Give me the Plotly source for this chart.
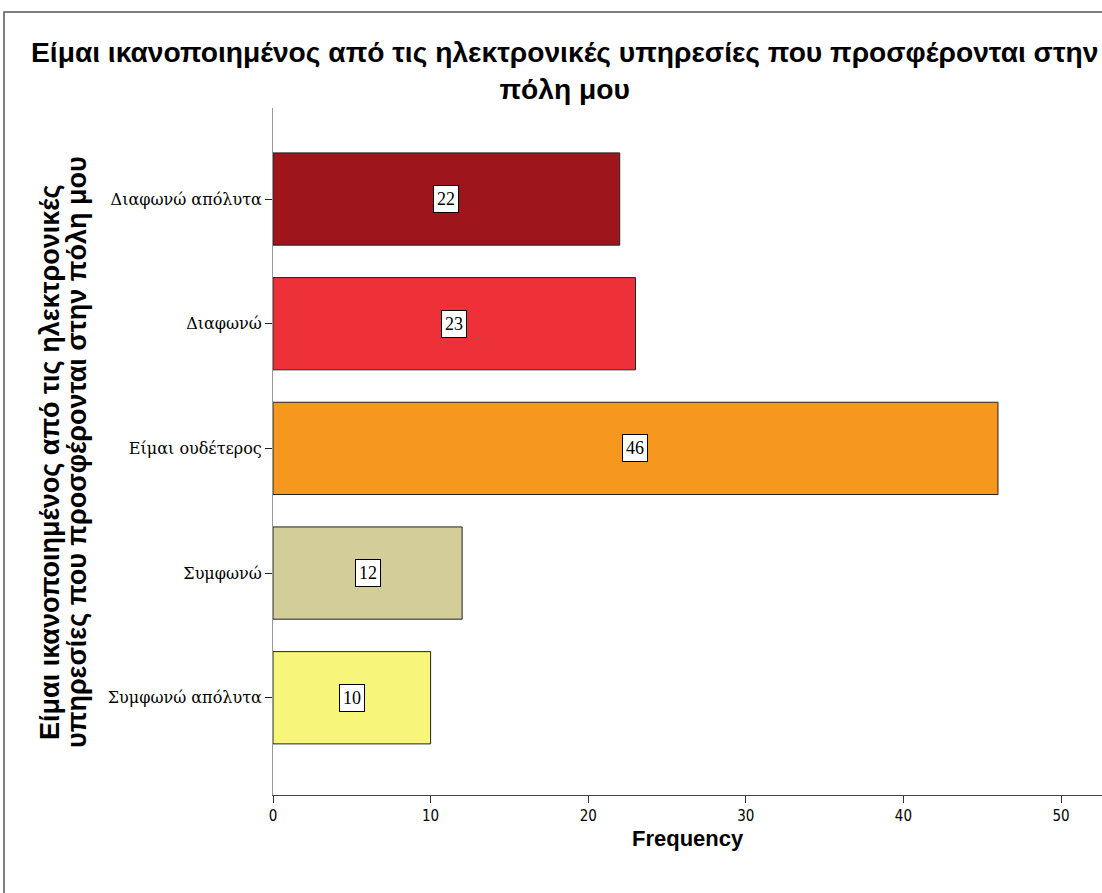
import plotly.graph_objects as go

categories = ["Διαφωνώ απόλυτα", "Διαφωνώ", "Είμαι ουδέτερος", "Συμφωνώ", "Συμφωνώ απόλυτα"]
values = [22, 23, 46, 12, 10]
colors = ["#9E161B", "#EE3138", "#F7981E", "#D3CD99", "#F8F57B"]
x_ticks = [0, 10, 20, 30, 40, 50]

title_text = "Είμαι ικανοποιημένος από τις ηλεκτρονικές υπηρεσίες που προσφέρονται στην<br>πόλη μου"
ytitle_lines = ["Είμαι ικανοποιημένος από τις ηλεκτρονικές", "υπηρεσίες που προσφέρονται στην πόλη μου"]
xtitle = "Frequency"

W, H = 1102, 893
L, R, T, B = 273, 0, 108, 893 - 795
PW, PH = W - L - R, H - T - B


def px(x):
    return (x - L) / PW


def py(y):
    return (H - B - y) / PH


fig = go.Figure()
fig.add_trace(go.Bar(
    y=categories, x=values, orientation="h",
    marker=dict(color=colors, line=dict(color="#222222", width=1)),
    width=0.74, showlegend=False, hoverinfo="x+y",
))

for c, v in zip(categories, values):
    fig.add_annotation(x=v / 2, y=c, xref="x", yref="y", text=str(v), showarrow=False,
                       bgcolor="white", bordercolor="black", borderwidth=1, borderpad=3,
                       font=dict(family="Liberation Serif", size=18, color="black"))

title_font = dict(family="Liberation Sans", size=28.2, color="black", weight="bold")
fig.add_annotation(x=px(564), y=py(70), xref="paper", yref="paper", text=title_text,
                   showarrow=False, xanchor="center", yanchor="middle", align="center",
                   font=title_font)

ytitle_font = dict(family="Liberation Sans", size=27, color="black", weight="bold")
fig.add_annotation(x=px(50), y=py(462), xref="paper", yref="paper", text=ytitle_lines[0],
                   showarrow=False, textangle=-90, xanchor="center", yanchor="middle", font=ytitle_font)
fig.add_annotation(x=px(77), y=py(452), xref="paper", yref="paper", text=ytitle_lines[1],
                   showarrow=False, textangle=-90, xanchor="center", yanchor="middle", font=ytitle_font)

fig.add_annotation(x=px(688), y=py(838), xref="paper", yref="paper", text=xtitle,
                   showarrow=False, xanchor="center", yanchor="middle",
                   font=dict(family="Liberation Sans", size=22, color="black", weight="bold"))

frame_path = "M {x0},{y0} L {x0},{y1} L {x2},{y1}".format(
    x0=px(4), y0=py(950), y1=py(12), x2=px(1150))

fig.update_layout(
    width=W, height=H,
    paper_bgcolor="white", plot_bgcolor="white",
    margin=dict(l=L, r=R, t=T, b=B, autoexpand=False),
    xaxis=dict(range=[0, 52.6], tickvals=x_ticks, ticks="outside", ticklen=7, tickcolor="#333333",
               showline=True, linecolor="#444444", linewidth=1, showgrid=False, zeroline=False,
               automargin=False,
               tickfont=dict(family="DejaVu Sans Condensed", size=15, color="black")),
    yaxis=dict(range=[4.78, -0.73], ticks="outside", ticklen=7, tickcolor="#222222",
               showline=True, linecolor="#999999", linewidth=1, showgrid=False, zeroline=False,
               automargin=False,
               tickfont=dict(family="DejaVu Serif", size=16, color="black")),
    shapes=[dict(type="path", xref="paper", yref="paper", path=frame_path,
                 line=dict(color="#555555", width=1.5))],
)

fig.write_html("out.html", config={"displayModeBar": False},
               post_script="document.body.style.margin='0';document.body.style.padding='0';")
